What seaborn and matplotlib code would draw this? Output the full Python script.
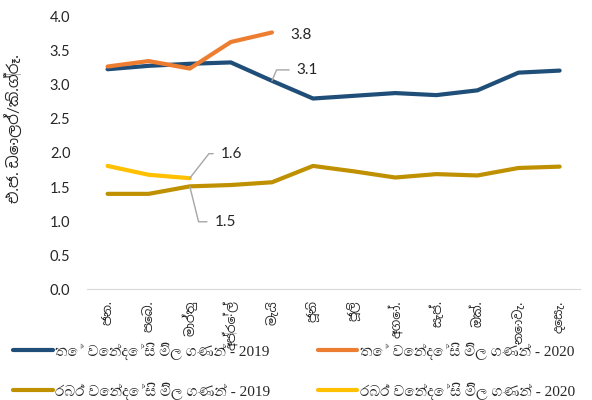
import numpy as np
import pandas as pd
import seaborn as sns
import matplotlib.pyplot as plt
from matplotlib import font_manager
from matplotlib.ft2font import FT2Font

# ================= DATA =================
MONTHS = ["ජන.", "පෙබ.", "මාර්තු", "අප්‍රේල්", "මැයි", "ජූනි",
          "ජූලි", "අගෝ.", "සැප්.", "ඔක්.", "නොවැ.", "දෙසැ."]

tea_2019 = [3.23, 3.28, 3.31, 3.33, 3.06, 2.80, 2.84, 2.88, 2.85, 2.92, 3.18, 3.21]
tea_2020 = [3.27, 3.35, 3.24, 3.63, 3.77]
rubber_2019 = [1.40, 1.40, 1.51, 1.53, 1.57, 1.81, 1.73, 1.64, 1.69, 1.67, 1.78, 1.80]
rubber_2020 = [1.81, 1.68, 1.63]

SERIES = [
    ("තේ වෙන්දේසි මිල ගණන් - 2019", tea_2019),
    ("තේ වෙන්දේසි මිල ගණන් - 2020", tea_2020),
    ("රබර් වෙන්දේසි මිල ගණන් - 2019", rubber_2019),
    ("රබර් වෙන්දේසි මිල ගණන් - 2020", rubber_2020),
]
COLORS = ["#1F4E79", "#ED7D31", "#BF9000", "#FFC000"]
Y_LABEL = "එ.ජ. ඩොලර්/කි.ග්‍රෑ."
# ========================================


def sinhala_fonts():
    # every installed family with Sinhala glyphs, monospaced ones last
    names = []
    for f in font_manager.fontManager.ttflist:
        try:
            if 0x0DB8 in FT2Font(f.fname).get_charmap() and f.name not in names:
                names.append(f.name)
        except Exception:
            pass
    return sorted(names, key=lambda n: "mono" in n.lower())


def pick(names, want):
    for n in names:
        if want in n.lower():
            return [n]
    return names[:1]


sns.set_style("white")
si = sinhala_fonts()
si_sans = pick(si, "sans")
si_serif = pick(si, "serif")
sans = ["Lato"] + si_sans + ["DejaVu Sans"]
serif = ["Liberation Serif"] + si_serif + ["DejaVu Serif"]
plt.rcParams["font.family"] = sans

rows = []
for name, vals in SERIES:
    for i, v in enumerate(vals):
        rows.append({"month": i, "value": v, "series": name})
df = pd.DataFrame(rows)

fig = plt.figure(figsize=(5.92, 4), dpi=100)
ax = fig.add_axes([0.147, 0.277, 0.833, 0.681])

sns.lineplot(data=df, x="month", y="value", hue="series",
             palette=COLORS, linewidth=3, ax=ax, legend=False,
             solid_capstyle="round")

ax.set_xlim(-0.5, 11.5)
ax.set_ylim(0, 4)
ticks = np.arange(0, 4.01, 0.5)
ax.set_yticks(ticks)
ax.set_yticklabels([f"{t:.1f}" for t in ticks], fontsize=10.5, color="#262626")
ax.set_xticks(range(len(MONTHS)))
ax.set_xticklabels(MONTHS, rotation=90, fontsize=9, color="#262626")
ax.tick_params(axis="y", length=0, pad=12)
ax.tick_params(axis="x", length=0, pad=8)
ax.set_xlabel("")
ax.set_ylabel(Y_LABEL, fontsize=11, color="#262626")
ax.yaxis.set_label_coords(-0.132, 0.59)

for side in ["top", "right", "left"]:
    ax.spines[side].set_visible(False)
ax.spines["bottom"].set_color("#D9D9D9")

# data labels
lead = dict(arrowstyle="-", color="#A6A6A6", lw=1, shrinkA=3, shrinkB=0)
ax.text(4.72, 3.73, "3.8", fontsize=11, ha="center", va="center", color="#262626")
ax.annotate("3.1", xy=(4, tea_2019[4]), xytext=(4.6, 3.22), fontsize=11,
            ha="left", va="center", color="#262626",
            arrowprops=dict(lead, connectionstyle="angle,angleA=0,angleB=67,rad=0"))
ax.annotate("1.6", xy=(2, rubber_2020[2]), xytext=(2.75, 1.99), fontsize=11,
            ha="left", va="center", color="#262626",
            arrowprops=dict(lead, connectionstyle="angle,angleA=0,angleB=52,rad=0"))
ax.annotate("1.5", xy=(2, rubber_2019[2]), xytext=(2.6, 0.99), fontsize=11,
            ha="left", va="center", color="#262626",
            arrowprops=dict(lead, connectionstyle="angle,angleA=0,angleB=104,rad=0"))

# legend fills column-wise: tea 2019, rubber 2019 | tea 2020, rubber 2020
order = [0, 2, 1, 3]
handles = [plt.Line2D([0], [0], color=COLORS[i], lw=3, solid_capstyle="round") for i in order]
labels = [SERIES[i][0] for i in order]
fig.legend(handles, labels, loc="center left",
           bbox_to_anchor=(13 / 592, 1 - 371 / 400), ncol=2, frameon=False,
           borderpad=0, borderaxespad=0,
           handlelength=2.6, handletextpad=0.15, columnspacing=3.1,
           labelspacing=1.5, prop={"family": serif, "size": 11})

fig.savefig("out.png", dpi=100)
